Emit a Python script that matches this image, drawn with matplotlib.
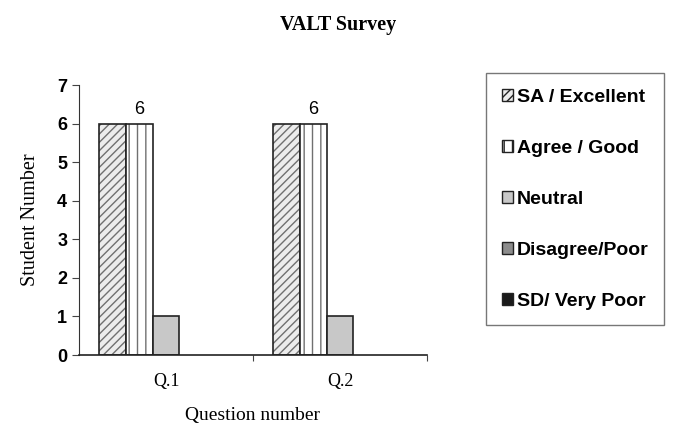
import numpy as np
import matplotlib.pyplot as plt
import matplotlib.patches as patches

questions = ['Q.1', 'Q.2']
series = ['SA / Excellent', 'Agree / Good', 'Neutral', 'Disagree/Poor', 'SD/ Very Poor']
values = [[6, 6], [6, 6], [1, 1], [0, 0], [0, 0]]

fills = ['#ececec', 'white', '#c8c8c8', '#8c8c8c', '#1a1a1a']
hatches = ['////', '||', None, None, None]

fig = plt.figure(figsize=(6.76, 4.23), dpi=100)
ax = fig.add_axes([79 / 676, 1 - 355 / 423, (427 - 79) / 676, (355 - 85) / 423])

x = np.arange(len(questions))
w = 0.155
handles = []
for i, name in enumerate(series):
    pos = x - 2.5 * w + (i + 0.5) * w
    vals = values[i]
    lw = [1.2 if v else 0 for v in vals]
    if hatches[i]:
        ax.bar(pos, vals, w, color=fills[i], edgecolor='#707070', hatch=hatches[i], linewidth=0)
        ax.bar(pos, vals, w, fill=False, edgecolor='#222222', linewidth=lw)
    else:
        ax.bar(pos, vals, w, color=fills[i], edgecolor='#222222', linewidth=lw)
    handles.append(patches.Patch(facecolor=fills[i], edgecolor='#222222',
                                 hatch=hatches[i], linewidth=1))
    if i == 1:
        for p, v in zip(pos, vals):
            ax.text(p, v + 0.15, str(v), ha='center', va='bottom',
                    fontsize=13, family='Liberation Sans')

ax.set_xlim(-0.5, 1.5)
ax.set_ylim(0, 7)
ax.set_xticks([0.5, 1.5])
ax.set_xticklabels([])
ax.set_xticks(x, minor=True)
ax.set_xticklabels(questions, minor=True, fontsize=13, family='Liberation Serif')
ax.tick_params(axis='x', which='minor', length=0, pad=13)
ax.tick_params(axis='x', which='major', length=4, color='#444444')
ax.set_yticks(range(8))
ax.set_yticklabels([str(v) for v in range(8)], fontsize=13, fontweight='bold',
                   family='Liberation Sans')
ax.tick_params(axis='y', length=5, color='#444444')
for s in ['top', 'right']:
    ax.spines[s].set_visible(False)
ax.spines['left'].set_color('#333333')
ax.spines['bottom'].set_color('#222222')
ax.spines['bottom'].set_linewidth(1.2)

ax.set_ylabel('Student Number', fontsize=14.5, family='Liberation Serif', labelpad=12)
ax.set_xlabel('Question number', fontsize=14, family='Liberation Serif', labelpad=12)

fig.text(0.5, 1 - 30 / 423, 'VALT Survey', ha='center', fontsize=14.5,
         fontweight='bold', family='Liberation Serif')

leg = fig.legend(handles, series, loc='upper left',
                 bbox_to_anchor=(486 / 676, 1 - 73 / 423),
                 prop={'family': 'Liberation Sans', 'weight': 'bold', 'size': 14},
                 handlelength=0.6, handleheight=0.6, handletextpad=0.2,
                 labelspacing=1.75, borderpad=0.8, borderaxespad=0,
                 fancybox=False, frameon=True)
leg.get_frame().set_edgecolor('#555555')
leg.get_frame().set_linewidth(1.0)

fig.savefig('out.png', dpi=100)
